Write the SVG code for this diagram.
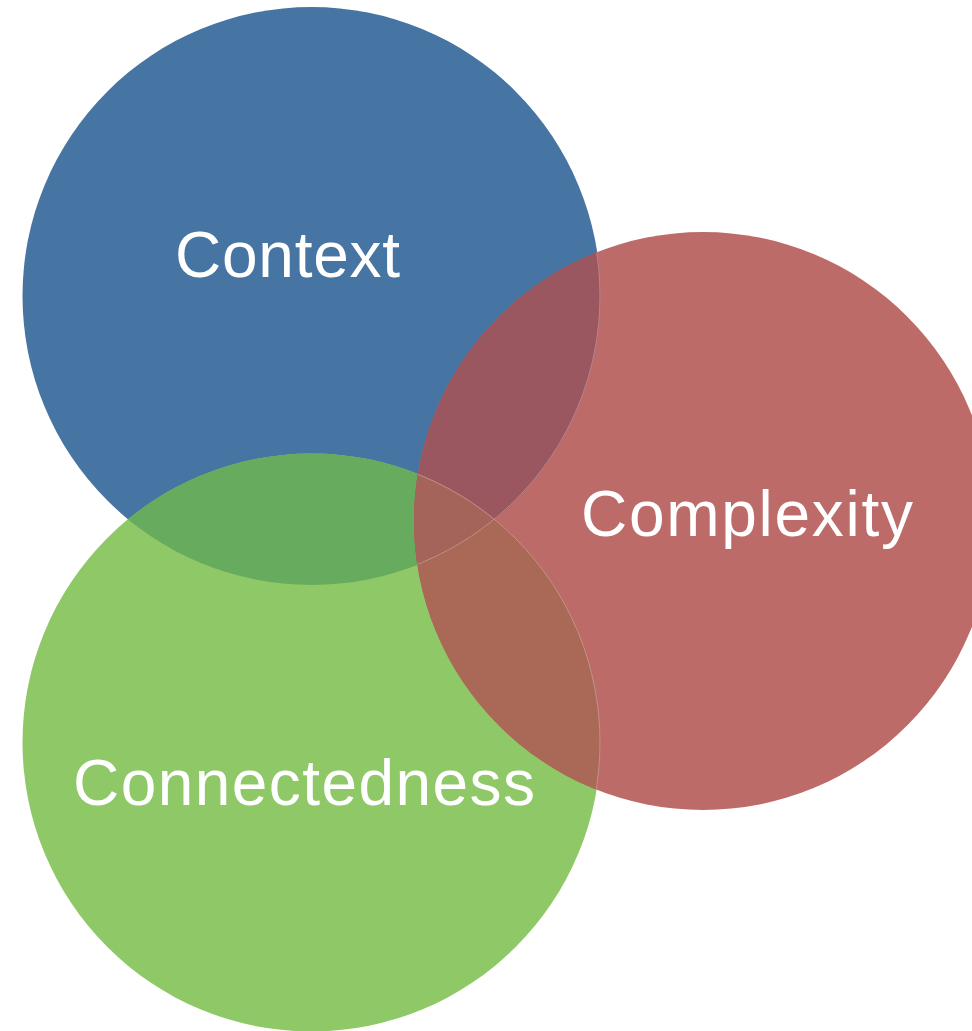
<svg xmlns="http://www.w3.org/2000/svg" width="972" height="1031" viewBox="0 0 972 1031">
<style>
.lbl{font-family:"Liberation Sans",Arial,sans-serif;font-size:64px;fill:#fff;text-anchor:start}
.edge{fill:none;stroke:#fff;stroke-opacity:0.28;stroke-width:1}
</style>
<defs>
<clipPath id="cBlue"><circle cx="311.5" cy="296" r="289"/></clipPath>
<clipPath id="cGreen"><circle cx="311.5" cy="742.5" r="289"/></clipPath>
<clipPath id="cRed"><circle cx="703" cy="521" r="289"/></clipPath>
</defs>
<rect width="972" height="1031" fill="#fff"/>
<g id="context">
<circle cx="311.5" cy="296" r="289" fill="#4674A3"/>
</g>
<g id="connectedness">
<circle cx="311.5" cy="742.5" r="289" fill="#8FC866"/>
<circle cx="311.5" cy="742.5" r="289" fill="#67AB5E" clip-path="url(#cBlue)"/>
</g>
<g id="complexity">
<circle cx="703" cy="521" r="289" fill="#BC6B68"/>
<circle cx="703" cy="521" r="289" fill="#9B5760" clip-path="url(#cBlue)"/>
<circle cx="703" cy="521" r="289" fill="#AA6957" clip-path="url(#cGreen)"/>
<g clip-path="url(#cBlue)"><circle cx="703" cy="521" r="289" fill="#A5645A" clip-path="url(#cGreen)"/></g>
<g clip-path="url(#cRed)">
<circle class="edge" cx="311.5" cy="296" r="288.5"/>
<circle class="edge" cx="311.5" cy="742.5" r="288.5"/>
</g>
</g>
<g id="labels">
<text class="lbl" x="175" y="277" textLength="225" lengthAdjust="spacing">Context</text>
<text class="lbl" x="581" y="536" textLength="332" lengthAdjust="spacing">Complexity</text>
<text class="lbl" x="73" y="805" textLength="462" lengthAdjust="spacing">Connectedness</text>
</g>
<g id="connectors"/>
</svg>
